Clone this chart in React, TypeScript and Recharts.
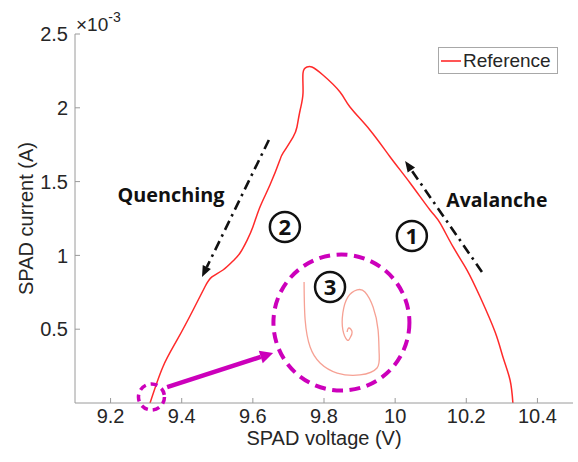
import React from 'react';
import { LineChart, Line, XAxis, YAxis, ReferenceDot, ReferenceLine, Legend } from 'recharts';

// SPAD I-V loop (current in units of 1e-3 A)
const loopVoltage = [10.331, 10.323, 10.303, 10.281, 10.239, 10.202, 10.163, 10.126, 10.098, 10.042, 9.986, 9.929, 9.873, 9.845, 9.797, 9.766, 9.752, 9.741, 9.741, 9.733, 9.724, 9.713, 9.685, 9.676, 9.648, 9.620, 9.600, 9.584, 9.564, 9.544, 9.516, 9.485, 9.465, 9.432, 9.387, 9.347, 9.311];
const loopCurrent = [0, 0.156, 0.312, 0.481, 0.718, 0.901, 1.057, 1.220, 1.308, 1.491, 1.667, 1.850, 2.005, 2.107, 2.222, 2.276, 2.276, 2.236, 2.100, 1.985, 1.870, 1.802, 1.694, 1.646, 1.477, 1.328, 1.192, 1.104, 1.016, 0.962, 0.901, 0.854, 0.786, 0.630, 0.427, 0.244, 0];

// zoomed recovery spiral drawn inside circle (3)
const insetVoltage = [9.744, 9.747, 9.761, 9.789, 9.837, 9.901, 9.949, 9.955, 9.952, 9.938, 9.915, 9.893, 9.867, 9.853, 9.853, 9.865, 9.873, 9.879, 9.870, 9.865];
const insetCurrent = [0.820, 0.562, 0.379, 0.271, 0.203, 0.190, 0.237, 0.339, 0.495, 0.650, 0.752, 0.766, 0.718, 0.610, 0.495, 0.427, 0.440, 0.481, 0.508, 0.481];

const xTicks = [9.2, 9.4, 9.6, 9.8, 10, 10.2, 10.4];
const yTicks = [0.5, 1, 1.5, 2, 2.5];
const xDomain = [9.1, 10.5];
const yDomain = [0, 2.5];

// annotations (data coordinates)
const quenchArrow = [{ x: 9.645, y: 1.782 }, { x: 9.457, y: 0.854 }];
const avalancheArrow = [{ x: 10.244, y: 0.888 }, { x: 10.028, y: 1.640 }];
const zoomArrow = [{ x: 9.359, y: 0.108 }, { x: 9.657, y: 0.339 }];
const zoomCircle = { x: 9.849, y: 0.545 };
const originCircle = { x: 9.315, y: 0.041 };
const circledLabels = [
  { n: '1', x: 10.047, y: 1.131 },
  { n: '2', x: 9.690, y: 1.192 },
  { n: '3', x: 9.817, y: 0.786 },
];
const phaseLabels = [
  { text: 'Quenching', x: 9.370, y: 1.409, len: 107 },
  { text: 'Avalanche', x: 10.286, y: 1.372, len: 101 },
];

const loopData = loopVoltage.map((v, k) => ({ v, i: loopCurrent[k] }));
const insetData = insetVoltage.map((v, k) => ({ v, i: insetCurrent[k] }));

const FONT = '"Liberation Sans", Arial, Helvetica, sans-serif';
const BOLD_FONT = '"Open Sans", Lato, sans-serif';
const AXIS_GRAY = '#9a9a9a';
const TEXT_DARK = '#262626';
const MAGENTA = '#cc00bb';
const RED = '#ff2a2a';

function arrowShape(color: string, width: number, dash: string | undefined, headLen: number, headW: number) {
  return (p: any) => {
    const { x1, y1, x2, y2 } = p;
    const dx = x2 - x1;
    const dy = y2 - y1;
    const len = Math.sqrt(dx * dx + dy * dy) || 1;
    const ux = dx / len;
    const uy = dy / len;
    const bx = x2 - ux * headLen;
    const by = y2 - uy * headLen;
    const nx = -uy * headW / 2;
    const ny = ux * headW / 2;
    return (
      <g>
        <line x1={x1} y1={y1} x2={bx} y2={by} stroke={color} strokeWidth={width} strokeDasharray={dash} />
        <polygon points={`${x2},${y2} ${bx + nx},${by + ny} ${bx - nx},${by - ny}`} fill={color} />
      </g>
    );
  };
}

const circledShape = (n: string) => (p: any) => (
  <g>
    <circle cx={p.cx} cy={p.cy} r={15} fill="none" stroke="#111" strokeWidth={2.5} />
    <text x={p.cx} y={p.cy} dy="0.36em" textAnchor="middle" fontFamily={BOLD_FONT} fontWeight="bold" fontSize={22} fill="#111">{n}</text>
  </g>
);

const textShape = (t: string, len: number) => (p: any) => (
  <text x={p.cx} y={p.cy} dy="0.36em" textAnchor="middle" fontFamily={BOLD_FONT} fontWeight="bold" fontSize={19} fill="#111" textLength={len} lengthAdjust="spacingAndGlyphs">{t}</text>
);

const renderXLabel = (props: any) => {
  const vb = props.viewBox || {};
  return (
    <text x={vb.x + vb.width / 2} y={vb.y + 42} textAnchor="middle" fontFamily={FONT} fontSize={20} fill={TEXT_DARK}>SPAD voltage (V)</text>
  );
};

const renderYLabel = (props: any) => {
  const vb = props.viewBox || {};
  const cx = vb.x + 18;
  const cy = vb.y + vb.height / 2;
  return (
    <g>
      <text x={cx} y={cy} transform={`rotate(-90 ${cx} ${cy})`} textAnchor="middle" fontFamily={FONT} fontSize={20} fill={TEXT_DARK}>SPAD current (A)</text>
      <text x={vb.x + vb.width + 1} y={vb.y - 3} fontFamily={FONT} fontSize={19} fill={TEXT_DARK}>
        ×10<tspan dy={-9} fontSize={14}>-3</tspan>
      </text>
    </g>
  );
};

const renderLegend = () => (
  <div style={{ boxSizing: 'border-box', width: 120, height: 27, border: '1px solid #a8a8a8', background: '#fff', display: 'flex', alignItems: 'center', fontFamily: FONT, fontSize: 19, color: TEXT_DARK }}>
    <svg width={24} height={10} style={{ display: 'block' }}>
      <line x1={2} y1={5} x2={22} y2={5} stroke={RED} strokeWidth={1.6} />
    </svg>
    <span style={{ lineHeight: '25px' }}>Reference</span>
  </div>
);

const noTick = () => <g />;

export default function App() {
  return (
    <div style={{ position: 'absolute', left: 0, top: 0, background: '#fff' }}>
      <LineChart width={578} height={462} margin={{ top: 34, right: 5, bottom: 13, left: 15 }}>
        <XAxis
          xAxisId={0}
          type="number"
          dataKey="v"
          domain={xDomain}
          ticks={xTicks}
          allowDataOverflow
          height={46}
          stroke={AXIS_GRAY}
          tickSize={-5}
          tickMargin={11}
          tick={{ fill: TEXT_DARK, fontSize: 20, fontFamily: FONT }}
          label={renderXLabel}
        />
        <XAxis
          xAxisId="top"
          orientation="top"
          type="number"
          dataKey="v"
          domain={xDomain}
          ticks={xTicks}
          allowDataOverflow
          height={0}
          stroke={AXIS_GRAY}
          tickSize={-5}
          tick={noTick}
        />
        <YAxis
          yAxisId={0}
          type="number"
          domain={yDomain}
          ticks={yTicks}
          allowDataOverflow
          width={60}
          stroke={AXIS_GRAY}
          tickSize={-5}
          tickMargin={12}
          tick={{ fill: TEXT_DARK, fontSize: 20, fontFamily: FONT }}
          label={renderYLabel}
        />
        <YAxis
          yAxisId="right"
          orientation="right"
          type="number"
          domain={yDomain}
          ticks={yTicks}
          allowDataOverflow
          width={0}
          stroke={AXIS_GRAY}
          tickSize={-5}
          tick={noTick}
        />
        <Legend
          layout="vertical"
          align="center"
          verticalAlign="middle"
          wrapperStyle={{ top: 47, left: 438, width: 120, height: 27 }}
          content={renderLegend}
        />
        <Line
          data={loopData}
          dataKey="i"
          name="Reference"
          type="natural"
          stroke={RED}
          strokeWidth={1.5}
          dot={false}
          activeDot={false}
          isAnimationActive={false}
        />
        <Line
          data={insetData}
          dataKey="i"
          name="inset"
          legendType="none"
          type="natural"
          stroke="#f6a194"
          strokeWidth={1.3}
          dot={false}
          activeDot={false}
          isAnimationActive={false}
        />
        <ReferenceDot x={zoomCircle.x} y={zoomCircle.y} r={68} fill="none" stroke={MAGENTA} strokeWidth={4} strokeDasharray="11 6.5" ifOverflow="visible" />
        <ReferenceDot x={originCircle.x} y={originCircle.y} r={13} fill="none" stroke={MAGENTA} strokeWidth={3.5} strokeDasharray="7 5" ifOverflow="visible" />
        <ReferenceLine segment={zoomArrow} ifOverflow="visible" shape={arrowShape(MAGENTA, 4.5, undefined, 13, 13)} />
        <ReferenceLine segment={quenchArrow} ifOverflow="visible" shape={arrowShape('#111', 2.6, '10 5 2.5 5', 11, 9)} />
        <ReferenceLine segment={avalancheArrow} ifOverflow="visible" shape={arrowShape('#111', 2.6, '10 5 2.5 5', 11, 9)} />
        {circledLabels.map((c) => (
          <ReferenceDot key={c.n} x={c.x} y={c.y} r={15} ifOverflow="visible" shape={circledShape(c.n)} />
        ))}
        {phaseLabels.map((t) => (
          <ReferenceDot key={t.text} x={t.x} y={t.y} r={1} ifOverflow="visible" shape={textShape(t.text, t.len)} />
        ))}
      </LineChart>
    </div>
  );
}
